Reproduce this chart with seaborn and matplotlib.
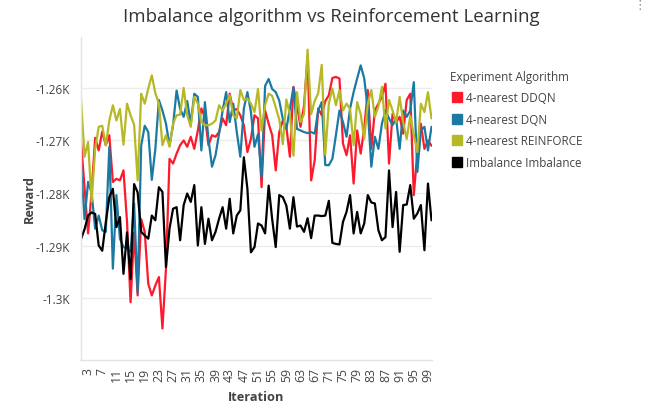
import pandas as pd
import numpy as np
import matplotlib
matplotlib.use("Agg")
import matplotlib.pyplot as plt
from matplotlib.lines import Line2D
from matplotlib.ticker import FuncFormatter
import seaborn as sns

# Data (rewards per iteration)
iterations = list(range(1, 101))

ddqn = [
    -1270.0, -1279.0, -1287.7, -1279.8, -1269.5, -1271.9, -1268.3, -1270.9, -1269.0, -1277.9,
    -1277.3, -1277.6, -1275.7, -1285.5, -1300.8, -1287.5, -1299.5, -1285.0, -1287.4, -1297.3,
    -1299.5, -1297.6, -1296.0, -1305.8, -1294.4, -1273.5, -1274.4, -1272.5, -1270.9, -1270.0,
    -1271.2, -1269.3, -1271.6, -1268.1, -1263.9, -1265.5, -1270.9, -1269.0, -1269.3, -1268.4,
    -1265.8, -1267.1, -1261.1, -1264.3, -1264.0, -1265.2, -1267.1, -1272.2, -1269.7, -1265.2,
    -1265.8, -1278.9, -1264.3, -1266.8, -1269.0, -1275.7, -1268.4, -1266.2, -1267.4, -1273.1,
    -1259.8, -1263.3, -1267.4, -1263.3, -1254.0, -1277.6, -1273.8, -1263.9, -1265.2, -1262.5,
    -1261.4, -1258.1, -1257.9, -1258.2, -1270.6, -1272.8, -1269.0, -1278.2, -1268.1, -1272.5,
    -1267.7, -1260.4, -1271.6, -1264.3, -1263.0, -1261.7, -1259.2, -1274.4, -1264.9, -1266.5,
    -1265.5, -1268.7, -1262.3, -1261.1, -1280.4, -1272.2, -1266.8, -1271.6, -1270.0, -1271.0,
]

dqn = [
    -1274.7, -1285.0, -1277.9, -1280.0, -1286.8, -1284.3, -1287.1, -1287.4, -1271.2, -1294.4,
    -1280.4, -1288.7, -1290.3, -1290.6, -1291.2, -1282.0, -1298.9, -1271.0, -1267.2, -1268.4,
    -1277.5, -1271.6, -1262.3, -1264.3, -1266.8, -1271.0, -1267.1, -1260.5, -1264.0, -1265.5,
    -1262.5, -1266.8, -1261.1, -1261.7, -1271.9, -1262.7, -1269.7, -1275.0, -1272.8, -1268.7,
    -1264.3, -1260.8, -1266.5, -1263.0, -1268.4, -1273.1, -1263.9, -1260.8, -1264.6, -1271.2,
    -1268.8, -1277.0, -1259.6, -1258.3, -1260.2, -1260.8, -1262.4, -1265.9, -1267.8, -1264.0,
    -1259.9, -1267.8, -1268.1, -1268.4, -1268.6, -1268.4, -1268.7, -1264.3, -1262.7, -1274.7,
    -1274.7, -1273.5, -1269.0, -1264.3, -1266.5, -1269.3, -1263.9, -1260.8, -1258.2, -1255.7,
    -1258.2, -1264.0, -1275.0, -1269.3, -1271.6, -1266.8, -1264.3, -1265.8, -1267.1, -1265.8,
    -1271.6, -1264.3, -1265.5, -1264.3, -1258.9, -1276.0, -1268.1, -1267.4, -1271.9, -1267.4,
]

reinforce = [
    -1262.2, -1273.1, -1270.3, -1281.7, -1271.6, -1267.4, -1267.2, -1270.9, -1266.2, -1263.3,
    -1266.2, -1264.0, -1270.8, -1263.0, -1265.2, -1267.0, -1277.6, -1261.1, -1263.0, -1260.1,
    -1257.6, -1261.0, -1263.0, -1270.9, -1269.0, -1271.2, -1266.8, -1265.2, -1265.1, -1260.0,
    -1265.2, -1267.4, -1261.7, -1263.0, -1266.5, -1267.1, -1267.1, -1266.8, -1266.2, -1263.3,
    -1264.3, -1263.0, -1261.4, -1265.2, -1265.8, -1260.4, -1262.3, -1262.0, -1263.0, -1264.6,
    -1260.2, -1268.1, -1263.3, -1261.1, -1261.5, -1263.7, -1266.0, -1270.7, -1262.2, -1265.0,
    -1272.9, -1260.8, -1266.5, -1265.0, -1252.7, -1265.0, -1262.5, -1261.0, -1255.6, -1272.7,
    -1263.0, -1260.1, -1263.3, -1260.4, -1264.3, -1263.0, -1264.0, -1270.9, -1262.7, -1265.0,
    -1269.7, -1263.0, -1260.4, -1265.5, -1263.5, -1259.8, -1267.7, -1262.3, -1264.3, -1266.5,
    -1261.7, -1266.5, -1269.7, -1265.3, -1268.9, -1272.2, -1263.0, -1264.6, -1260.8, -1265.8,
]

imbalance = [
    -1288.8, -1286.9, -1284.3, -1283.7, -1284.0, -1290.0, -1291.0, -1285.6, -1280.8, -1279.2,
    -1286.5, -1284.6, -1295.4, -1287.5, -1296.4, -1278.3, -1279.9, -1287.4, -1288.1, -1288.7,
    -1284.3, -1285.2, -1278.9, -1279.8, -1294.1, -1286.8, -1283.0, -1282.7, -1289.0, -1282.3,
    -1280.1, -1281.7, -1278.5, -1290.0, -1282.7, -1289.7, -1284.9, -1289.0, -1287.4, -1284.9,
    -1282.7, -1286.8, -1281.1, -1287.7, -1284.3, -1283.3, -1273.2, -1279.2, -1291.3, -1290.3,
    -1285.8, -1286.2, -1287.7, -1278.6, -1285.0, -1290.3, -1280.4, -1280.8, -1282.4, -1286.8,
    -1280.8, -1286.4, -1286.2, -1287.4, -1284.8, -1288.6, -1284.3, -1284.3, -1284.4, -1284.3,
    -1281.5, -1289.5, -1289.7, -1289.8, -1285.5, -1283.6, -1280.4, -1287.7, -1283.6, -1287.7,
    -1285.8, -1280.4, -1281.8, -1282.0, -1287.1, -1289.0, -1288.4, -1275.7, -1286.5, -1279.8,
    -1291.2, -1282.3, -1282.2, -1278.5, -1284.9, -1283.9, -1282.3, -1290.9, -1278.2, -1285.2,
]

series_names = ["4-nearest DDQN", "4-nearest DQN", "4-nearest REINFORCE", "Imbalance Imbalance"]
series_values = [ddqn, dqn, reinforce, imbalance]
colors = ["#fd1a2c", "#1c7aa2", "#b6b925", "#000000"]
x_tick_values = list(range(3, 100, 4))

# long format table for seaborn
df = pd.concat(
    [pd.DataFrame({"Iteration": iterations, "Reward": vals, "Experiment Algorithm": name})
     for name, vals in zip(series_names, series_values)],
    ignore_index=True,
)

sns.set_theme(style="white")
plt.rcParams["font.family"] = ["Open Sans", "DejaVu Sans"]
text_color = "#444444"

fig = plt.figure(figsize=(6.62, 4.06), dpi=100)
ax = fig.add_axes([81 / 662, 45 / 406, 350.5 / 662, 323 / 406])

sns.lineplot(data=df, x="Iteration", y="Reward", hue="Experiment Algorithm",
             hue_order=series_names, palette=dict(zip(series_names, colors)),
             linewidth=1.6, sort=False, legend=False, ax=ax)

ax.set_xlim(1, 100)
ax.set_ylim(-1311.8, -1250.3)
ax.set_yticks([-1300, -1290, -1280, -1270, -1260])
ax.yaxis.set_major_formatter(FuncFormatter(lambda v, p: f"{v / 1000:g}K"))
ax.set_xticks(x_tick_values)
ax.set_xticklabels([str(t) for t in x_tick_values], rotation=90)
ax.tick_params(axis="both", length=0, labelsize=8.8, colors=text_color)
ax.tick_params(axis="y", labelsize=8.5, pad=8)
ax.tick_params(axis="x", pad=5)
ax.grid(axis="y", color="#ececec", linewidth=1)
ax.grid(axis="x", visible=False)
for side in ["top", "right"]:
    ax.spines[side].set_visible(False)
for side in ["left", "bottom"]:
    ax.spines[side].set_color("#e3e3e3")
    ax.spines[side].set_linewidth(1)

ax.set_xlabel("Iteration", fontsize=9.2, fontweight="bold", color=text_color, labelpad=6)
ax.set_ylabel("Reward", fontsize=9.2, fontweight="bold", color=text_color, labelpad=0)

fig.text(0.5, 1 - 17 / 406, "Imbalance algorithm vs Reinforcement Learning",
         ha="center", va="center", fontsize=13.4, color="#333333")

handles = [Line2D([], [], marker="s", linestyle="", color=c, markersize=7) for c in colors]
leg = fig.legend(handles, series_names, title="Experiment Algorithm",
                 loc="upper left", bbox_to_anchor=(439 / 662, 1 - 60 / 406),
                 frameon=False, fontsize=8.4, title_fontsize=8.4,
                 handlelength=1.2, handletextpad=0.25, labelspacing=0.74,
                 alignment="left")
for t in leg.get_texts():
    t.set_color(text_color)
leg.get_title().set_color(text_color)

# plotly menu dots in the corner
fig.text(640 / 662, 1 - 6 / 406, "\u22ee", ha="center", va="center", fontsize=9,
         color="#888888", family=["DejaVu Sans"])

fig.savefig("out.png", dpi=100)
